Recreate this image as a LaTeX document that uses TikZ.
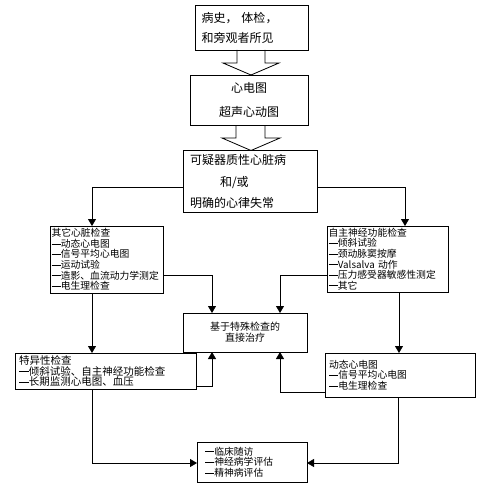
\documentclass[tikz,border=0pt]{standalone}
\usepackage{fontspec}
\setmainfont{Noto Sans CJK SC}
\usetikzlibrary{arrows.meta}
\newcommand{\dd}{\rule[0.33em]{0.95em}{0.06em}}
\tikzset{
  box/.style={draw, line width=0.8pt, inner sep=0pt, outer sep=0pt},
  bigtxt/.style={font=\fontsize{12}{20}\selectfont},
  smalltxt/.style={font=\fontsize{9.8}{10.6}\selectfont, align=left},
  conn/.style={line width=0.8pt},
  arr/.style={conn, -{Triangle[length=7pt,width=8pt]}},
  hollow/.style={line width=0.8pt, line join=miter}
}
\begin{document}
\begin{tikzpicture}[x=1pt,y=-1pt]
\useasboundingbox (0,0) rectangle (500,500);
% top boxes
\node[box, bigtxt, minimum width=113pt, minimum height=45pt, text width=100pt, align=left] (b1) at (251.5,27.5) {病史， 体检，\\和旁观者所见};
\node[box, font=\fontsize{12}{24}\selectfont, minimum width=118pt, minimum height=50pt, align=center] (b2) at (249,100) {心电图\\超声心动图};
\node[box, font=\fontsize{12}{21.5}\selectfont, minimum width=134pt, minimum height=62pt, text width=120pt, align=left] (b3) at (250,181.5) {可疑器质性心脏病\\\hspace*{30pt}和/或\\明确的心律失常};
% hollow arrows
\coordinate (h1a) at (b1.south -| 237,0);
\coordinate (h1b) at (b1.south -| 265,0);
\draw[hollow] (h1a) -- (237,63) -- (223,63) -- (b2.north -| 251,0) -- (279,63) -- (265,63) -- (h1b);
\coordinate (h2a) at (b2.south -| 236,0);
\coordinate (h2b) at (b2.south -| 265,0);
\draw[hollow] (h2a) -- (236,138) -- (222,138) -- (b3.north -| 251,0) -- (280,138) -- (265,138) -- (h2b);
% second row
\node[box, smalltxt, minimum width=113pt, minimum height=67pt, text width=110pt] (b4) at (106.5,259.5) {其它心脏检查\\\dd 动态心电图\\\dd 信号平均心电图\\\dd 运动试验\\\dd 造影、血流动力学测定\\\dd 电生理检查};
\node[box, smalltxt, minimum width=121pt, minimum height=66pt, text width=118pt] (b5) at (387.5,259) {自主神经功能检查\\\dd 倾斜试验\\\dd 颈动脉窦按摩\\\dd Valsalva 动作\\\dd 压力感受器敏感性测定\\\dd 其它};
\node[box, font=\fontsize{10}{11}\selectfont, align=center, minimum width=124pt, minimum height=39pt] (c) at (245,332.5) {基于特殊检查的\\直接治疗};
\node[box, font=\fontsize{10.5}{10.6}\selectfont, align=left, minimum width=181pt, minimum height=36pt, text width=173pt] (b6) at (105.5,371) {特异性检查\\\dd 倾斜试验、自主神经功能检查\\\dd 长期监测心电图、血压};
\node[box, smalltxt, minimum width=150pt, minimum height=44pt, text width=142pt] (b7) at (400,375) {动态心电图\\\dd 信号平均心电图\\\dd 电生理检查};
\node[box, smalltxt, minimum width=110pt, minimum height=40pt, text width=94pt] (f) at (252,462) {\dd 临床随访\\\dd 神经病学评估\\\dd 精神病评估};
% connectors
\draw[arr] (b3.west |- 0,187) -| (b4.north -| 92,0);
\draw[arr] (b3.east |- 0,187) -| (b5.north -| 405,0);
\draw[arr] (b4.east |- 0,275) -| (c.north -| 212,0);
\draw[arr] (b5.west |- 0,275) -| (c.north -| 280,0);
\draw[arr] (b4.south -| 92,0) -- (b6.north -| 92,0);
\draw[arr] (b5.south -| 399,0) -- (b7.north -| 399,0);
\draw[arr] (b6.east |- 0,386) -| (c.south -| 212,0);
\draw[arr] (b7.west |- 0,392) -| (c.south -| 280,0);
\draw[arr] (b6.south -| 92,0) |- (f.west |- 0,463);
\draw[arr] (b7.south -| 398,0) |- (f.east |- 0,463);
\end{tikzpicture}
\end{document}
